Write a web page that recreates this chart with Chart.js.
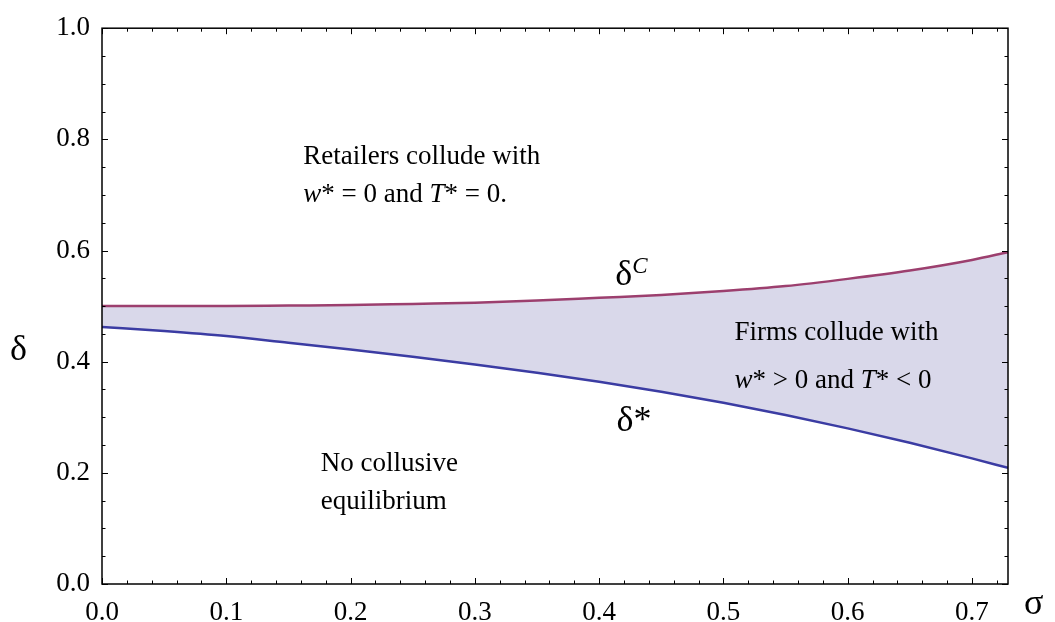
<!DOCTYPE html>
<html lang="en">
<head>
  <meta charset="UTF-8">
  <title>Collusion regions</title>
  <style>
    body { margin: 0; background: #fff; }
  </style>
</head>
<body>
  <canvas id="myChart" width="1055" height="622"></canvas>

  <script src="https://cdn.jsdelivr.net/npm/chart.js"></script>
  <script>
    // valores
    const sigma = [0, 0.05, 0.1, 0.15, 0.2, 0.25, 0.3, 0.35, 0.4, 0.45, 0.5, 0.55, 0.6, 0.65, 0.7, 0.729]
    const deltaC = [0.500, 0.500, 0.500, 0.501, 0.502, 0.504, 0.506, 0.510, 0.515, 0.520, 0.527, 0.536, 0.549, 0.564, 0.583, 0.597]
    const deltaStar = [0.4625, 0.455, 0.446, 0.434, 0.422, 0.409, 0.395, 0.380, 0.364, 0.346, 0.326, 0.304, 0.280, 0.254, 0.226, 0.209]
    const xTicks = [0, 0.1, 0.2, 0.3, 0.4, 0.5, 0.6, 0.7]
    const yTicks = [0, 0.2, 0.4, 0.6, 0.8, 1.0]

    const serif = '"Liberation Serif", "Times New Roman", serif'

    // marco con marcas hacia adentro, como en Mathematica
    const framePlugin = {
      id: 'frame',
      afterDatasetsDraw(chart) {
        const { ctx, chartArea: a, scales: { x, y } } = chart
        ctx.save()
        ctx.strokeStyle = '#000'
        ctx.lineWidth = 1.5
        ctx.strokeRect(a.left, a.top, a.right - a.left, a.bottom - a.top)
        ctx.lineWidth = 1
        ctx.beginPath()
        for (let i = 0; i * 0.02 <= 0.7291; i++) {
          const px = Math.round(x.getPixelForValue(i * 0.02)) + 0.5
          const len = i % 5 === 0 ? 6 : 3.5
          ctx.moveTo(px, a.bottom); ctx.lineTo(px, a.bottom - len)
          ctx.moveTo(px, a.top); ctx.lineTo(px, a.top + len)
        }
        for (let i = 0; i <= 20; i++) {
          const py = Math.round(y.getPixelForValue(i * 0.05)) + 0.5
          const len = i % 4 === 0 ? 6 : 3.5
          ctx.moveTo(a.left, py); ctx.lineTo(a.left + len, py)
          ctx.moveTo(a.right, py); ctx.lineTo(a.right - len, py)
        }
        ctx.stroke()
        ctx.restore()
      }
    }

    // texto con partes en cursiva
    const drawRich = (ctx, parts, x, y, size) => {
      let cx = x
      parts.forEach(([txt, italic]) => {
        ctx.font = (italic ? 'italic ' : '') + size + 'px ' + serif
        ctx.fillText(txt, cx, y)
        cx += ctx.measureText(txt).width
      })
    }

    const labelsPlugin = {
      id: 'labels',
      afterDraw(chart) {
        const { ctx, scales: { x, y } } = chart
        ctx.save()
        ctx.fillStyle = '#000'
        ctx.textBaseline = 'alphabetic'
        ctx.textAlign = 'left'
        const px = v => x.getPixelForValue(v)
        const py = v => y.getPixelForValue(v)

        drawRich(ctx, [['Retailers collude with', false]], px(0.162), py(0.755), 27)
        drawRich(ctx, [['w', true], ['* = 0 and ', false], ['T', true], ['* = 0.', false]], px(0.162), py(0.687), 27)
        drawRich(ctx, [['Firms collude with', false]], px(0.509), py(0.439), 27)
        drawRich(ctx, [['w', true], ['* > 0 and ', false], ['T', true], ['* < 0', false]], px(0.509), py(0.353), 27)
        drawRich(ctx, [['No collusive', false]], px(0.176), py(0.204), 27)
        drawRich(ctx, [['equilibrium', false]], px(0.176), py(0.135), 27)

        // etiquetas de las curvas
        drawRich(ctx, [['δ', false]], px(0.413), py(0.538), 36)
        drawRich(ctx, [['C', true]], px(0.413) + 17, py(0.538) - 12, 23)
        drawRich(ctx, [['δ*', false]], px(0.414), py(0.275), 36)

        // nombres de los ejes
        drawRich(ctx, [['δ', false]], 10, 360, 36)
        drawRich(ctx, [['σ', false]], 1024, 614, 36)
        ctx.restore()
      }
    }

    const tickFont = { family: serif, size: 27 }

    const config = {
      type: 'line',
      data: {
        datasets: [
          {
            label: 'deltaC',
            data: sigma.map((s, i) => ({ x: s, y: deltaC[i] })),
            borderColor: '#9c3f6e',
            borderWidth: 2.5,
            pointRadius: 0,
            cubicInterpolationMode: 'monotone',
            fill: false
          },
          {
            label: 'deltaStar',
            data: sigma.map((s, i) => ({ x: s, y: deltaStar[i] })),
            borderColor: '#3b3ca3',
            backgroundColor: '#d9d8ea',
            borderWidth: 2.5,
            pointRadius: 0,
            cubicInterpolationMode: 'monotone',
            fill: '-1'
          }
        ]
      },
      options: {
        responsive: false,
        animation: false,
        layout: { padding: { top: 24, right: 47, left: 0, bottom: 0 } },
        plugins: { legend: { display: false }, tooltip: { enabled: false } },
        scales: {
          x: {
            type: 'linear',
            min: 0,
            max: 0.729,
            afterBuildTicks: s => { s.ticks = xTicks.map(v => ({ value: v })) },
            afterFit: s => { s.height = 38 },
            grid: { display: false, drawTicks: false },
            border: { display: false },
            ticks: {
              font: tickFont, color: '#000', padding: 13,
              autoSkip: false, maxRotation: 0,
              callback: v => v.toFixed(1)
            }
          },
          y: {
            type: 'linear',
            min: 0,
            max: 1,
            afterBuildTicks: s => { s.ticks = yTicks.map(v => ({ value: v })) },
            afterFit: s => { s.width = 102 },
            grid: { display: false, drawTicks: false },
            border: { display: false },
            ticks: {
              font: tickFont, color: '#000', padding: 12,
              callback: v => v.toFixed(1)
            }
          }
        }
      },
      plugins: [framePlugin, labelsPlugin]
    }

    new Chart(document.getElementById('myChart'), config)
  </script>
</body>
</html>
